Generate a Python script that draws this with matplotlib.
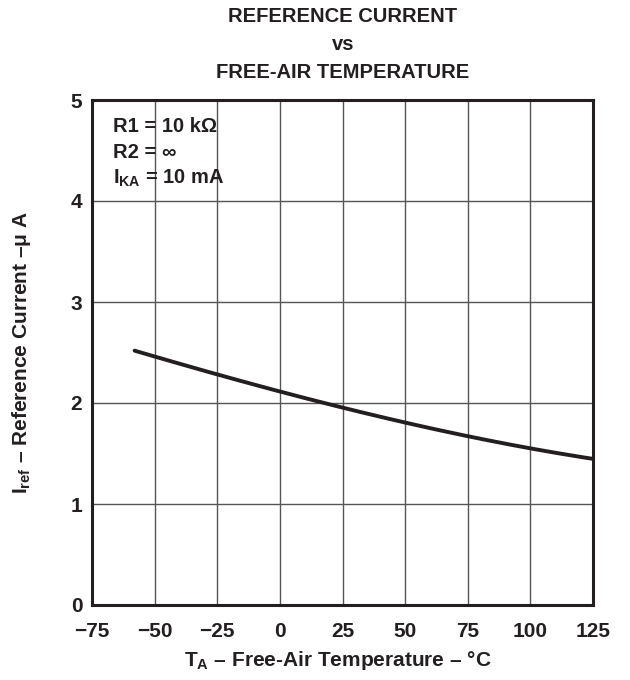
import matplotlib
matplotlib.use("Agg")
import matplotlib.pyplot as plt
import numpy as np

plt.rcParams['font.family'] = ['Liberation Sans', 'DejaVu Sans']
plt.rcParams['font.weight'] = 'bold'
plt.rcParams['mathtext.fontset'] = 'custom'
plt.rcParams['mathtext.rm'] = 'Liberation Sans:bold'
plt.rcParams['mathtext.it'] = 'Liberation Sans:bold'
plt.rcParams['mathtext.bf'] = 'Liberation Sans:bold'

# Data
temperature = [-58, -50, -25, 0, 25, 50, 75, 100, 125]
iref = [2.52, 2.46, 2.28, 2.11, 1.96, 1.81, 1.67, 1.545, 1.45]

x_ticks = [-75, -50, -25, 0, 25, 50, 75, 100, 125]
x_labels = ['\u221275', '\u221250', '\u221225', '0', '25', '50', '75', '100', '125']
y_ticks = [0, 1, 2, 3, 4, 5]

ink = '#231f20'

fig = plt.figure(figsize=(6.3, 6.8), dpi=100)
ax = fig.add_axes([92/630, 75/680, 501/630, 505/680])

t = np.array(temperature, dtype=float)
v = np.array(iref, dtype=float)
coef = np.polyfit(t, v, 3)
ts = np.linspace(t[0], t[-1], 200)
ax.plot(ts, np.polyval(coef, ts), color=ink, lw=2.8, solid_capstyle='round', zorder=3)

ax.set_xlim(-75, 125)
ax.set_ylim(0, 5)
ax.set_xticks(x_ticks)
ax.set_xticklabels(x_labels)
ax.set_yticks(y_ticks)
ax.grid(True, color='#555555', lw=1.0)
ax.tick_params(axis='x', length=0, labelsize=15, pad=12)
ax.tick_params(axis='y', length=0, labelsize=15, pad=7)
for lab in ax.get_xticklabels() + ax.get_yticklabels():
    lab.set_fontweight('bold')
    lab.set_color(ink)
for s in ax.spines.values():
    s.set_linewidth(2.2)
    s.set_color(ink)

ax.set_xlabel('T$_{\\mathrm{A}}$ \u2013 Free-Air Temperature \u2013 \u00b0C',
              fontsize=15, fontweight='bold', color=ink, va='center')
ax.xaxis.set_label_coords(0.49, -55/505)
ax.set_ylabel('I$_{\\mathrm{ref}}$ \u2013 Reference Current \u2013\u03bc A',
              fontsize=15, fontweight='bold', color=ink, va='center')
ax.yaxis.set_label_coords(-70/501, 0.5)

title_lines = ['REFERENCE CURRENT', 'vs', 'FREE-AIR TEMPERATURE']
for i, line in enumerate(title_lines):
    fig.text(343/630, 1 - (17 + 28*i)/680, line, ha='center', va='center',
             fontsize=14.5, fontweight='bold', color=ink)

notes = ['R1 = 10 k\u03a9', 'R2 = \u221e', 'I$_{\\mathrm{KA}}$ = 10 mA']
for i, line in enumerate(notes):
    ax.text(113/630, 1 - (127 + 25.5*i)/680, line, transform=fig.transFigure,
            ha='left', va='center', fontsize=14.5, fontweight='bold', color=ink)

fig.savefig('out.png', dpi=100, facecolor='white')
